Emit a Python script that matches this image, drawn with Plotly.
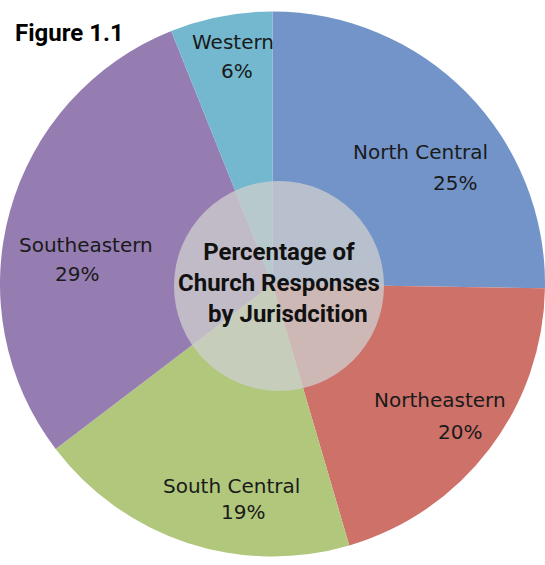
import plotly.graph_objects as go

# Share of church responses by jurisdiction (percent)
jurisdictions = ["North Central", "Northeastern", "South Central", "Southeastern", "Western"]
shares = [25, 20, 19, 29, 6]
slice_colors = ["#7394C8", "#CD7169", "#B0C77C", "#957DB1", "#73B8CE"]

# Label anchor points in pixels (name line, percent line)
name_pos = [(420, 152), (440, 400), (231, 486), (86, 245), (233, 42)]
pct_pos = [(455, 183), (460, 432), (243, 512), (77, 274), (237, 71)]

W, H = 545, 565

fig = go.Figure(
    go.Pie(
        labels=jurisdictions,
        values=shares,
        marker=dict(colors=slice_colors, line=dict(width=0)),
        sort=False,
        direction="clockwise",
        rotation=0,
        textinfo="none",
        hoverinfo="label+value",
        showlegend=False,
        domain=dict(x=[0, 1], y=[0, 1 - 3 / H]),
    )
)


def px(x, y):
    return x / W, 1 - y / H


label_font = dict(family="DejaVu Sans", size=20, color="#1a1a1a")
annotations = []
for name, val, (nx, ny), (vx, vy) in zip(jurisdictions, shares, name_pos, pct_pos):
    ax, ay = px(nx, ny)
    annotations.append(dict(x=ax, y=ay, xref="paper", yref="paper", text=name,
                            showarrow=False, font=label_font,
                            xanchor="center", yanchor="middle"))
    bx, by = px(vx, vy)
    annotations.append(dict(x=bx, y=by, xref="paper", yref="paper", text=f"{val}%",
                            showarrow=False, font=label_font,
                            xanchor="center", yanchor="middle"))

# Centre title
cx, cy = px(279, 283)
annotations.append(dict(
    x=cx, y=cy, xref="paper", yref="paper",
    text="Percentage of<br>Church Responses<br>   by Jurisdcition",
    showarrow=False, align="center",
    font=dict(family="Roboto", size=24, color="#111111", weight="bold"),
    xanchor="center", yanchor="middle",
))

# Figure caption
fx, fy = px(13, 33)
annotations.append(dict(
    x=fx, y=fy, xref="paper", yref="paper", text="Figure 1.1",
    showarrow=False, font=dict(family="Roboto", size=24, color="#000000", weight="bold"),
    xanchor="left", yanchor="middle",
))

# Translucent disc over the middle of the pie
x0, y1 = px(174, 181)
x1, y0 = px(384, 391)
shapes = [dict(type="circle", xref="paper", yref="paper", x0=x0, x1=x1, y0=y0, y1=y1,
               fillcolor="#CFCFCF", opacity=0.76, line=dict(width=0), layer="above")]

fig.update_layout(
    width=W, height=H,
    margin=dict(l=0, r=0, t=0, b=0),
    paper_bgcolor="white",
    plot_bgcolor="white",
    annotations=annotations,
    shapes=shapes,
)

fig.write_html("out.html")
